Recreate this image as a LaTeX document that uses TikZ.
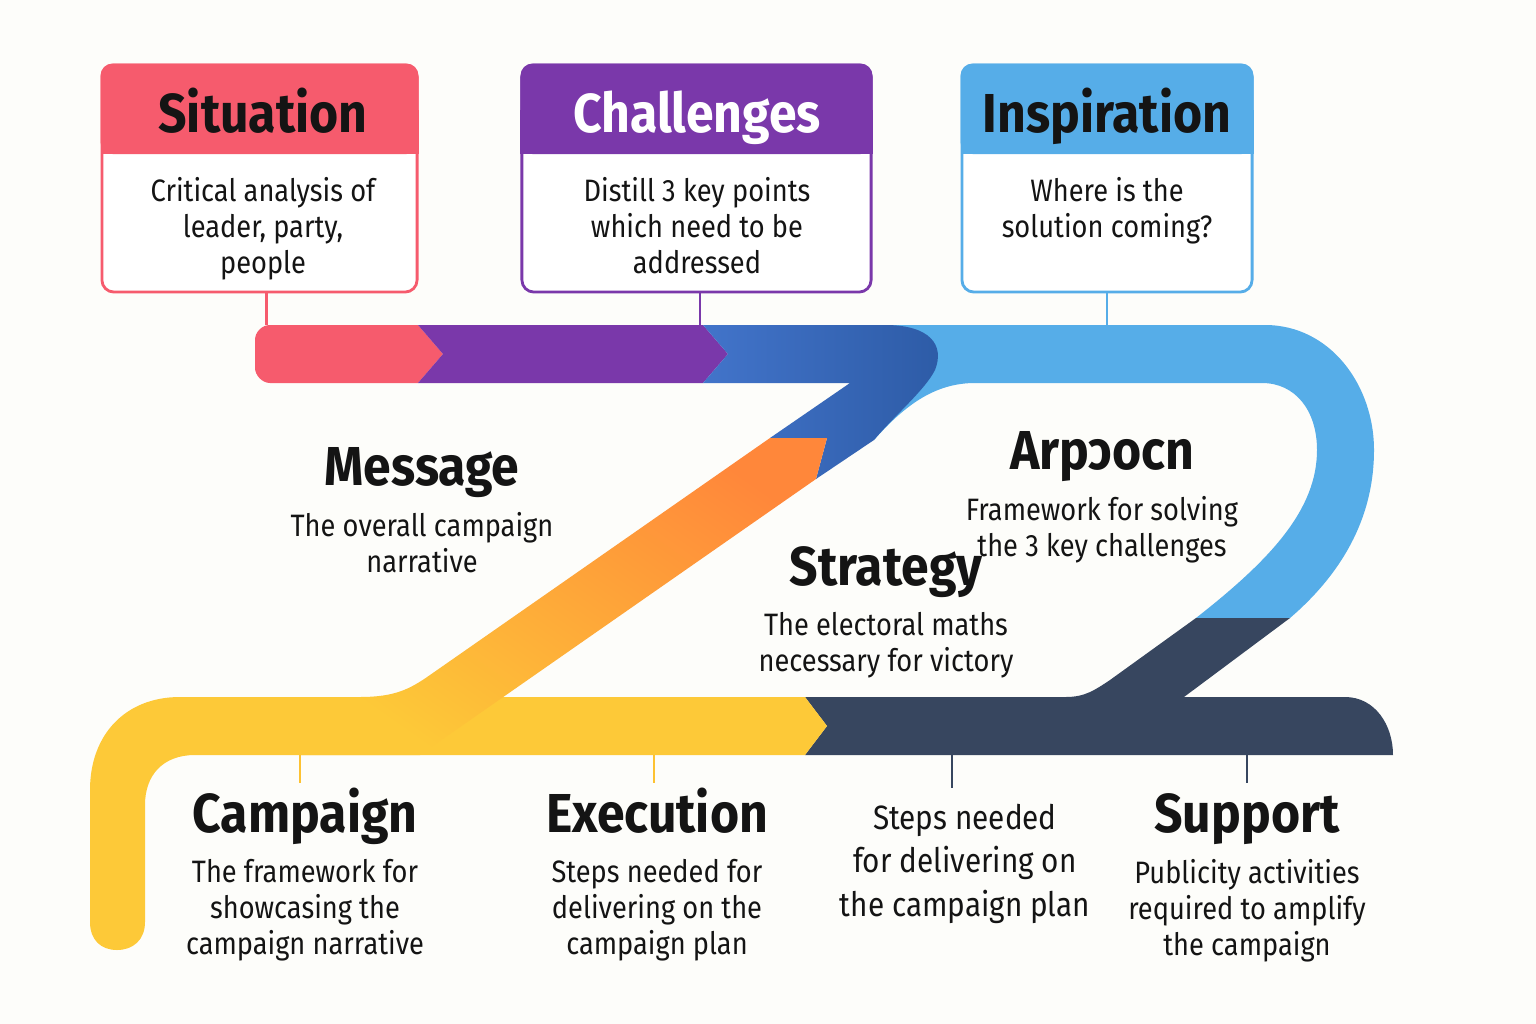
\documentclass[tikz,border=0pt]{standalone}
\usepackage{fontspec}
\setmainfont{Fira Sans}[FakeStretch=0.88]
\newfontfamily\headfont{Fira Sans}[FakeStretch=0.91]
\usetikzlibrary{positioning}

\definecolor{paper}{HTML}{FDFDFA}
\definecolor{ink}{HTML}{141414}
\definecolor{sitred}{HTML}{F65B6D}
\definecolor{chalpurple}{HTML}{7A38AA}
\definecolor{inspblue}{HTML}{56ADE8}
\definecolor{deepblueA}{HTML}{4274CA}
\definecolor{deepblueB}{HTML}{2D5BA6}
\definecolor{navy}{HTML}{37465F}
\definecolor{sunyellow}{HTML}{FDC938}
\definecolor{tangerine}{HTML}{FF873A}

\tikzset{
  card/.style={fill=white, line width=0.8pt, rounded corners=0.12cm, inner sep=0, minimum height=2.27cm},
  head/.style={font=\headfont\bfseries\fontsize{15.6}{18}\selectfont, text=ink, inner sep=0, text depth=0.12cm},
  desc/.style={font=\fontsize{8.8}{10.24}\selectfont, text=ink, align=center, inner sep=0},
  bigdesc/.style={font=\fontsize{9.6}{12.5}\selectfont, text=ink, align=center, inner sep=0},
  stem/.style={line width=0.7pt},
  node distance=0.14cm
}

\begin{document}
\begin{tikzpicture}[x=0.01cm,y=-0.01cm]
    \fill[paper] (0,0) rectangle (1536,1024);
    \useasboundingbox (0,0) rectangle (1536,1024);
    \coordinate (hdr) at (0,154);
    \coordinate (hdrmid) at (0,110);
    \coordinate (topbar) at (0,325);
    \coordinate (lowbar) at (0,755);

    % ribbons
    \fill[inspblue] (880,325) -- (1265,325) .. controls (1330,325) and (1374,385) .. (1374,450) .. controls (1374,520) and (1340,575) .. (1290,618) -- (1196,618) .. controls (1270,560) and (1317,510) .. (1317,450) .. controls (1317,410) and (1295,383) .. (1262,383) -- (975,383) .. controls (935,383) and (905,405) .. (874,440) -- (900,330) -- cycle;
    \fill[sitred] (418,325) -- (443,354) -- (418,383) -- (270,383) .. controls (262,383) and (255,375) .. (255,368) -- (255,340) .. controls (255,332) and (262,325) .. (270,325) -- cycle;
    \fill[chalpurple] (418,325) -- (703,325) -- (728,354) -- (703,383) -- (418,383) -- (443,354) -- cycle;
    \shade[left color=deepblueA, right color=deepblueB] (703,325) -- (885,325) .. controls (930,325) and (945,345) .. (935,370) .. controls (925,390) and (895,415) .. (874,440) -- (816,479) -- (827,438) -- (770,438) -- (850,383) -- (703,383) -- (728,354) -- cycle;
    \fill[navy] (805,697) -- (1066,697) .. controls (1085,697) and (1095,690) .. (1110,680) -- (1196,618) -- (1290,618) -- (1184,697) -- (1345,697) .. controls (1375,697) and (1393,725) .. (1393,755) -- (805,755) -- (827,726) -- cycle;
    \fill[sunyellow] (805,697) -- (827,726) -- (805,755) -- (195,755) .. controls (163,755) and (145,775) .. (145,805) -- (145,922) .. controls (145,940) and (133,950) .. (117,950) .. controls (101,950) and (90,940) .. (90,922) -- (90,790) .. controls (90,735) and (125,697) .. (180,697) -- cycle;
    \shade[top color=tangerine, bottom color=sunyellow, shading angle=-35] (827,438) -- (816,479) -- (420,755) -- (300,755) -- (300,697) -- (360,697) .. controls (395,697) and (410,689) .. (430,675) -- (770,438) -- cycle;

    % Situation
    \node[card, draw=sitred, minimum width=3.15cm] (sit) at (259.5,178.5) {};
    \fill[sitred, rounded corners=0.12cm] (sit.north west) rectangle (sit.east |- hdr);
    \fill[sitred] (sit.west |- hdrmid) rectangle (sit.east |- hdr);
    \node[head, anchor=base] (sithead) at (263,132) {Situation};
    \node[desc, below=0.32cm of sithead] (sitdesc) {Critical analysis of\\leader, party,\\people};
    \draw[stem, sitred] ([xshift=2pt]sit.south) -- ([xshift=2pt]sit.south |- topbar);

    % Challenges
    \node[card, draw=chalpurple, minimum width=3.49cm] (chal) at (696.5,178.5) {};
    \fill[chalpurple, rounded corners=0.12cm] (chal.north west) rectangle (chal.east |- hdr);
    \fill[chalpurple] (chal.west |- hdrmid) rectangle (chal.east |- hdr);
    \node[head, anchor=base, text=white] (chalhead) at (697,132) {Challenges};
    \node[desc, below=0.32cm of chalhead] (chaldesc) {Distill 3 key points\\which need to be\\addressed};
    \draw[stem, chalpurple] ([xshift=1pt]chal.south) -- ([xshift=1pt]chal.south |- topbar);

    % Inspiration
    \node[card, draw=inspblue, minimum width=2.90cm] (insp) at (1107,178.5) {};
    \fill[inspblue, rounded corners=0.12cm] (insp.north west) rectangle (insp.east |- hdr);
    \fill[inspblue] (insp.west |- hdrmid) rectangle (insp.east |- hdr);
    \node[head, anchor=base] (insphead) at (1107,132) {Inspiration};
    \node[desc, below=0.32cm of insphead] (inspdesc) {Where is the\\solution coming?};
    \draw[stem, inspblue] (insp.south) -- (insp.south |- topbar);

    % middle labels
    \node[head, anchor=base] (msghead) at (422,485) {Message};
    \node[desc, below=of msghead] (msgdesc) {The overall campaign\\narrative};
    \node[head, anchor=base] (apphead) at (1102,469) {Arpɔocn};
    \node[desc, below=of apphead] (appdesc) {Framework for solving\\the 3 key challenges};
    \node[head, anchor=base] (strathead) at (886,585) {Strategy};
    \node[desc, below=of strathead] (stratdesc) {The electoral maths\\necessary for victory};

    % lower labels
    \node[head, anchor=base] (camphead) at (305,832) {Campaign};
    \node[desc, below=of camphead] (campdesc) {The framework for\\showcasing the\\campaign narrative};
    \node[head, anchor=base] (exechead) at (657,832) {Execution};
    \node[desc, below=of exechead] (execdesc) {Steps needed for\\delivering on the\\campaign plan};
    \node[bigdesc, anchor=north] (stepsdesc) at (965,803) {Steps needed\\for delivering on\\the campaign plan};
    \node[head, anchor=base] (supphead) at (1247,832) {Support};
    \node[desc, below=of supphead] (suppdesc) {Publicity activities\\required to amplify\\the campaign};

    \draw[stem, sunyellow!90!orange] ([xshift=-1.4pt]camphead.north |- lowbar) -- ([xshift=-1.4pt,yshift=1.2pt]camphead.north);
    \draw[stem, sunyellow!90!orange] ([xshift=-0.9pt]exechead.north |- lowbar) -- ([xshift=-0.9pt,yshift=1.2pt]exechead.north);
    \draw[stem, navy] ([xshift=-3.7pt]stepsdesc.north |- lowbar) -- ([xshift=-3.7pt,yshift=4.3pt]stepsdesc.north);
    \draw[stem, navy] (supphead.north |- lowbar) -- ([yshift=2.6pt]supphead.north);
\end{tikzpicture}
\end{document}
